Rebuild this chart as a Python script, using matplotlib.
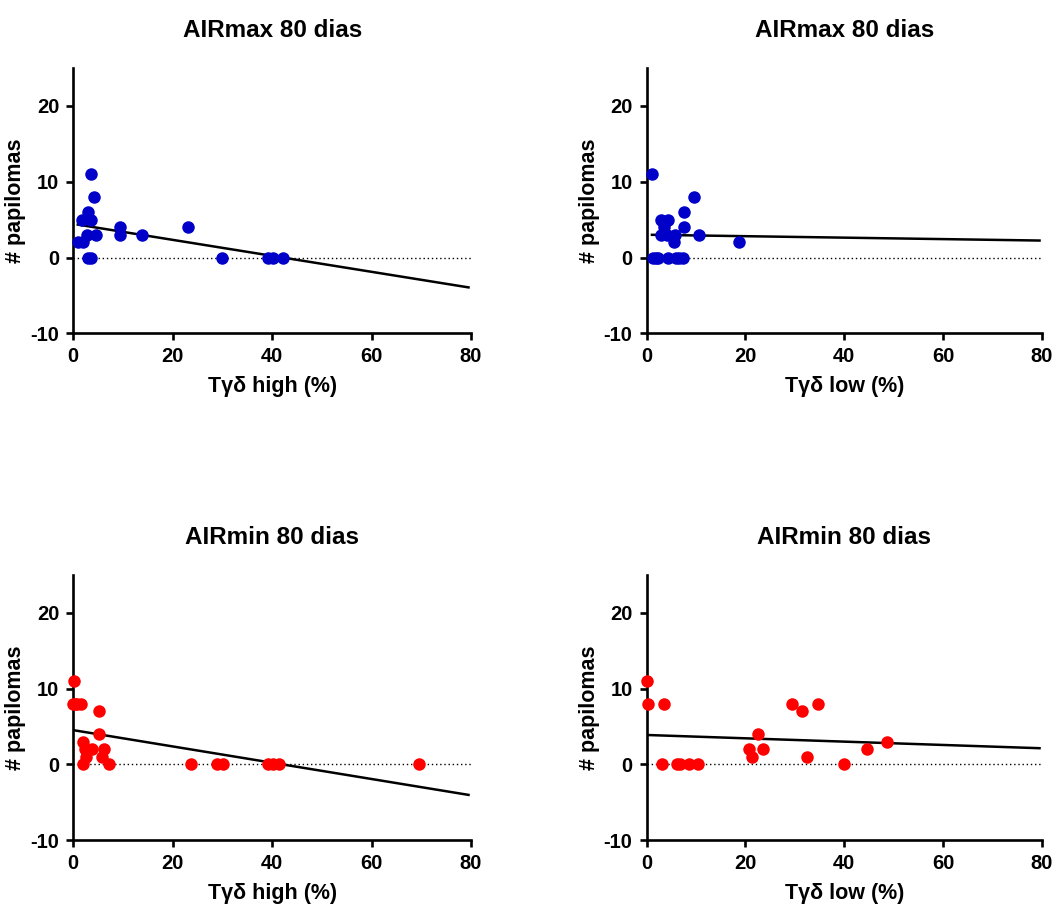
import matplotlib
matplotlib.use('Agg')
import matplotlib.pyplot as plt
import numpy as np

plt.rcParams['font.family'] = ['Liberation Sans', 'DejaVu Sans']
plt.rcParams['font.weight'] = 'bold'
plt.rcParams['axes.unicode_minus'] = False

# AIRmax, high subset
max_high_x = [0.9, 2.0, 1.7, 3.0, 3.5, 2.8, 4.5, 3.6, 4.2, 3.0, 3.6, 9.3, 9.3, 13.9, 23.0, 30.0, 39.2, 40.2, 42.1]
max_high_y = [2, 2, 5, 6, 5, 3, 3, 11, 8, 0, 0, 4, 3, 3, 4, 0, 0, 0, 0]

# AIRmax, low subset
max_low_x = [1.1, 9.7, 7.5, 2.9, 4.3, 7.5, 3.5, 2.9, 4.1, 5.8, 10.6, 5.5, 18.7,
             1.4, 1.9, 2.4, 4.3, 6.0, 6.6, 7.3]
max_low_y = [11, 8, 6, 5, 5, 4, 4, 3, 3, 3, 3, 2, 2,
             0, 0, 0, 0, 0, 0, 0]

# AIRmin, high subset
min_high_x = [0.1, 0.0, 0.4, 0.8, 1.6, 5.2, 5.2, 1.9, 2.3, 3.7, 2.5, 6.2, 5.7, 2.0, 7.2,
              23.6, 29.0, 30.2, 39.2, 40.2, 41.4, 69.5]
min_high_y = [11, 8, 8, 8, 8, 7, 4, 3, 2, 2, 1, 2, 1, 0, 0,
              0, 0, 0, 0, 0, 0, 0]

# AIRmin, low subset
min_low_x = [0.2, 0.4, 3.6, 3.2, 6.2, 6.8, 8.6, 10.5, 20.8, 21.4, 22.5, 23.5, 29.4, 31.5, 32.4, 34.7, 40.0, 44.6, 48.7]
min_low_y = [11, 8, 8, 0, 0, 0, 0, 0, 2, 1, 4, 2, 8, 7, 1, 8, 0, 2, 3]

panels = [
    ("AIRmax 80 dias", "Tγδ high (%)", max_high_x, max_high_y, "#0000C8"),
    ("AIRmax 80 dias", "Tγδ low (%)", max_low_x, max_low_y, "#0000C8"),
    ("AIRmin 80 dias", "Tγδ high (%)", min_high_x, min_high_y, "#FF0000"),
    ("AIRmin 80 dias", "Tγδ low (%)", min_low_x, min_low_y, "#FF0000"),
]

W, H = 1057, 905
fig = plt.figure(figsize=(W / 100, H / 100), dpi=100)

# axes boxes in pixels: left, top, right, bottom
boxes = [
    (73.3, 68, 471, 333.3),
    (646.5, 68, 1042, 333.3),
    (73.3, 575, 471, 840),
    (646.5, 575, 1042, 840),
]

for (title, xlabel, xs, ys, color), (l, t, r, b) in zip(panels, boxes):
    ax = fig.add_axes([l / W, 1 - b / H, (r - l) / W, (b - t) / H])
    xs = np.array(xs)
    ys = np.array(ys)

    # zero reference
    ax.plot([0, 80], [0, 0], color='black', lw=1, ls=(0, (1, 2)), zorder=1)

    # linear regression
    slope, icpt = np.polyfit(xs, ys, 1)
    fx = np.array([xs.min(), 79.5])
    ax.plot(fx, slope * fx + icpt, color='black', lw=1.8, zorder=2)

    ax.plot(xs, ys, 'o', color=color, ms=9, mec='none', clip_on=False, zorder=3)

    ax.set_xlim(0, 80)
    ax.set_ylim(-10, 25)
    ax.set_xticks([0, 20, 40, 60, 80])
    ax.set_yticks([-10, 0, 10, 20])
    for side in ['top', 'right']:
        ax.spines[side].set_visible(False)
    for side in ['left', 'bottom']:
        ax.spines[side].set_linewidth(1.9)
    ax.tick_params(direction='out', length=5, width=1.9, labelsize=14.5, pad=5)
    for lab in ax.get_xticklabels() + ax.get_yticklabels():
        lab.set_fontweight('bold')

    ax.set_xlabel(xlabel, fontsize=15.5, fontweight='bold', labelpad=7)
    ax.set_ylabel("# papilomas", fontsize=15.5, fontweight='bold', labelpad=3)
    ax.set_title(title, fontsize=17.5, fontweight='bold', pad=22)

fig.savefig('out.png', dpi=100)
